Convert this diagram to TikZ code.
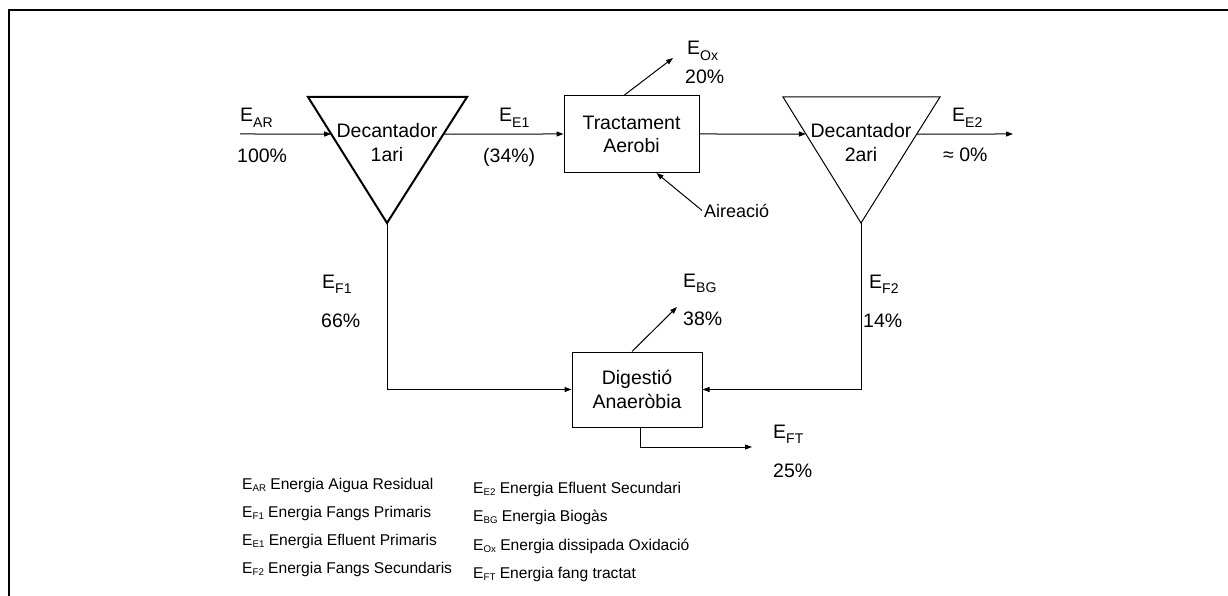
\documentclass[tikz,border=0pt]{standalone}
\usepackage{fontspec}
\setmainfont{Liberation Sans}
\usepackage{graphicx}
\usetikzlibrary{arrows.meta,positioning,calc}

\newcommand{\Esub}[1]{E\raisebox{-0.3em}{\scalebox{0.72}{#1}}}
\newcommand{\Eleg}[1]{E\raisebox{-0.18em}{\scalebox{0.62}{#1}}}

\begin{document}
\begin{tikzpicture}[
            x=1pt, y=-1pt,
            unit/.style={align=center, inner sep=0pt, font=\fontsize{19.5}{24}\selectfont},
            box/.style={rectangle, draw, line width=1pt, minimum width=135pt, minimum height=77pt, align=center, font=\fontsize{19.5}{23}\selectfont},
            lbl/.style={anchor=base west, inner sep=0pt, font=\fontsize{19.5}{24}\selectfont},
            leg/.style={anchor=base west, inner sep=0pt, font=\fontsize{15.6}{18}\selectfont},
            arrow/.style={-{Triangle[length=7pt, width=5pt]}, line width=1pt}
        ]
            \useasboundingbox (0,0) rectangle (1228,596);
            \draw[line width=2.4pt] (9.2,596) -- (9.2,10.3) -- (1228,10.3);

            % primary settler
            \coordinate (d1a) at (308,97);
            \coordinate (d1b) at (467,97);
            \coordinate (d1c) at (387,223);
            \draw[line width=2pt, line join=miter] (d1a) -- (d1b) -- (d1c) -- cycle;
            \node[unit] (dec1) at (387,142.5) {Decantador\\1ari};
            \coordinate (d1in) at ($(d1a)!0.2937!(d1c)$);
            \coordinate (d1out) at ($(d1b)!0.2937!(d1c)$);

            % secondary settler
            \coordinate (d2a) at (783,97);
            \coordinate (d2b) at (940,97);
            \coordinate (d2c) at (861,223);
            \draw[line width=1pt, line join=miter] (d2a) -- (d2b) -- (d2c) -- cycle;
            \node[unit] (dec2) at (861,142.5) {Decantador\\2ari};
            \coordinate (d2in) at ($(d2a)!0.2937!(d2c)$);
            \coordinate (d2out) at ($(d2b)!0.2937!(d2c)$);

            \node[box] (aer) at (631.5,134) {Tractament\\Aerobi};
            \node[box, minimum width=130pt, minimum height=75pt, font=\fontsize{19.5}{24}\selectfont] (dig) at (637,389.5) {Digestió\\Anaeròbia};
            \node[lbl, inner sep=2pt, font=\fontsize{18}{20}\selectfont] (airea) at (702,217) {Aireació};

            \coordinate (inAR) at (240,134);
            \coordinate (outE2) at (1013,134);
            \coordinate (oxTip) at (673,58);
            \coordinate (bgTip) at (677,307);
            \coordinate (ftTip) at (752,447);

            \draw[arrow] (inAR) -- (d1in);
            \draw[arrow] (d1out) -- (aer.west);
            \draw[arrow] (aer.east) -- (d2in);
            \draw[arrow] (d2out) -- (outE2);
            \draw[arrow] ([xshift=-7pt]aer.north) -- (oxTip);
            \draw[arrow] (airea.west) -- ([xshift=25pt]aer.south);
            \draw[arrow] (d1c) |- (dig.west);
            \draw[arrow] (d2c) |- (dig.east);
            \draw[arrow] ([xshift=-5pt]dig.north) -- (bgTip);
            \draw[arrow] ([xshift=3pt]dig.south) |- (ftTip);

            % flow labels
            \node[lbl] (eAR) at (240,122) {\Esub{AR}};
            \node[lbl] (pAR) at (237,163) {100\%};
            \node[lbl] (eE1) at (499,122) {\Esub{E1}};
            \node[lbl] (pE1) at (483,162.5) {(34\%)};
            \node[lbl] (eOx) at (687,55) {\Esub{Ox}};
            \node[lbl] (pOx) at (685,84) {20\%};
            \node[lbl] (eE2) at (952,122) {\Esub{E2}};
            \node[lbl] (pE2) at (943,162) {≈ 0\%};
            \node[lbl] (eF1) at (322,288) {\Esub{F1}};
            \node[lbl] (pF1) at (321,327) {66\%};
            \node[lbl] (eBG) at (683,287) {\Esub{BG}};
            \node[lbl] (pBG) at (683,325) {38\%};
            \node[lbl] (eF2) at (869,288) {\Esub{F2}};
            \node[lbl] (pF2) at (863,327) {14\%};
            \node[lbl] (eFT) at (773,438) {\Esub{FT}};
            \node[lbl] (pFT) at (773,477) {25\%};

            % legend
            \node[leg] (lAR) at (242,489) {\Eleg{AR} Energia Aigua Residual};
            \node[leg] (lF1) at (242,517) {\Eleg{F1} Energia Fangs Primaris};
            \node[leg] (lE1) at (242,545) {\Eleg{E1} Energia Efluent Primaris};
            \node[leg] (lF2) at (242,573) {\Eleg{F2} Energia Fangs Secundaris};
            \node[leg] (lE2) at (473,493) {\Eleg{E2} Energia Efluent Secundari};
            \node[leg] (lBG) at (473,521) {\Eleg{BG} Energia Biogàs};
            \node[leg] (lOx) at (473,550) {\Eleg{Ox} Energia dissipada Oxidació};
            \node[leg] (lFT) at (473,578) {\Eleg{FT} Energia fang tractat};
        \end{tikzpicture}
\end{document}
